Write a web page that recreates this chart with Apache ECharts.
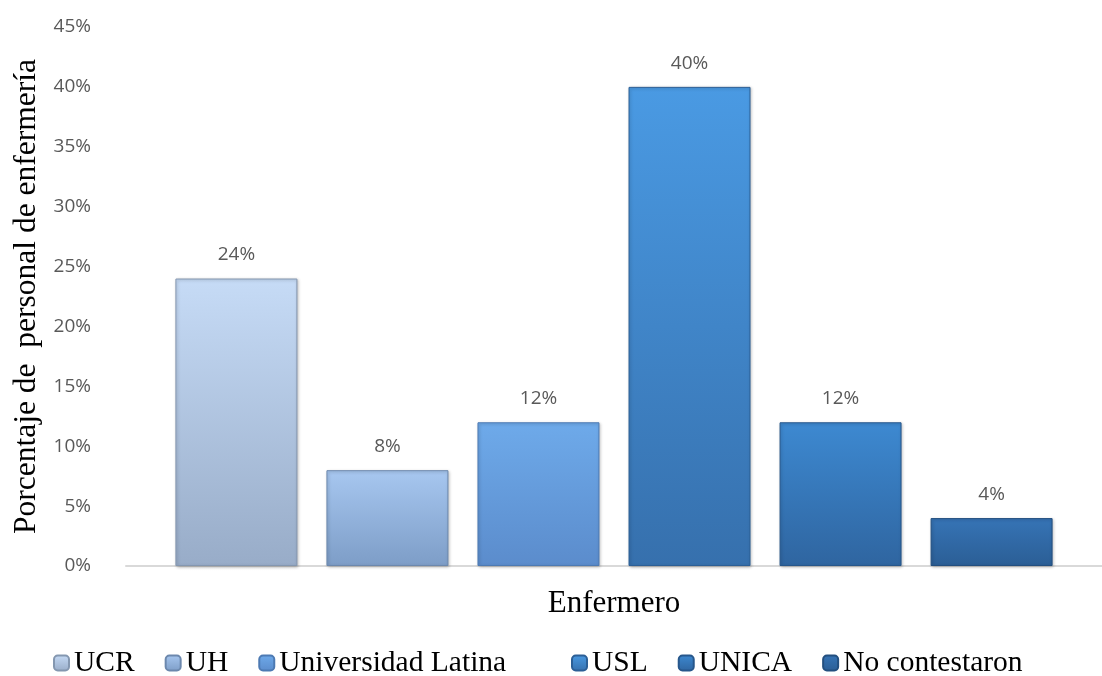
<!DOCTYPE html>
<html>
<head>
<meta charset="utf-8">
<script src="https://cdn.jsdelivr.net/npm/echarts@6/dist/echarts.min.js"></script>
<style>html,body{margin:0;padding:0;background:#fff}#c{width:1102px;height:676px}</style>
</head>
<body>
<div id="c"></div>
<script>
const categories = ['Enfermero'];
const seriesNames = ['UCR', 'UH', 'Universidad Latina', 'USL', 'UNICA', 'No contestaron'];
const seriesValues = [24, 8, 12, 40, 12, 4];
const yTicks = [0, 5, 10, 15, 20, 25, 30, 35, 40, 45];
const topColors = ['#c6dbf6', '#a7c7f0', '#6eaaea', '#4a9ae3', '#3d89d1', '#3674b6'];
const bottomColors = ['#98acc8', '#7d9dc7', '#5b8ccc', '#3670ad', '#2f65a0', '#2b5e95'];
const borderColors = ['#8497b0', '#6c88ad', '#4d7ab3', '#2c5f96', '#27578b', '#234f7f'];

const chart = echarts.init(document.getElementById('c'));
const series = seriesNames.map((name, i) => ({
  name: name,
  type: 'bar',
  data: [seriesValues[i]],
  barWidth: 122,
  barGap: '23.8%',
  itemStyle: {
    color: new echarts.graphic.LinearGradient(0, 0, 0, 1, [
      {offset: 0, color: topColors[i]},
      {offset: 1, color: bottomColors[i]}
    ]),
    borderColor: borderColors[i],
    borderWidth: 1,
    shadowColor: 'rgba(0,0,0,0.25)',
    shadowBlur: 3,
    shadowOffsetX: 1,
    shadowOffsetY: 1
  },
  label: {
    show: true,
    position: 'top',
    distance: 14,
    formatter: p => p.value + '%',
    fontFamily: 'Open Sans',
    fontSize: 19,
    color: '#595959'
  }
}));

const legendBase = {
  top: 643,
  itemWidth: 15,
  itemHeight: 15,
  itemGap: 30,
  textStyle: {fontFamily: 'Liberation Serif', fontSize: 29.5, color: '#000'}
};

chart.setOption({
  animation: false,
  backgroundColor: '#ffffff',
  grid: {left: 126, right: 0, top: 27, bottom: 110},
  legend: [
    Object.assign({}, legendBase, {left: 48, data: seriesNames.slice(0, 3)}),
    Object.assign({}, legendBase, {left: 566, data: seriesNames.slice(3)})
  ],
  xAxis: {
    type: 'category',
    data: categories,
    axisLine: {lineStyle: {color: '#d9d9d9', width: 2}},
    axisTick: {show: false},
    axisLabel: {fontFamily: 'Liberation Serif', fontSize: 31, color: '#000', margin: 22}
  },
  yAxis: {
    type: 'value',
    min: yTicks[0],
    max: yTicks[yTicks.length - 1],
    interval: 5,
    name: 'Porcentaje de  personal de enfermería',
    nameLocation: 'middle',
    nameGap: 80,
    nameTextStyle: {fontFamily: 'Liberation Serif', fontSize: 31.5, color: '#000'},
    axisLine: {show: false},
    axisTick: {show: false},
    splitLine: {show: false},
    axisLabel: {formatter: v => v + '%', fontFamily: 'Open Sans', fontSize: 19, color: '#595959', margin: 35}
  },
  series: series
});
</script>
</body>
</html>
